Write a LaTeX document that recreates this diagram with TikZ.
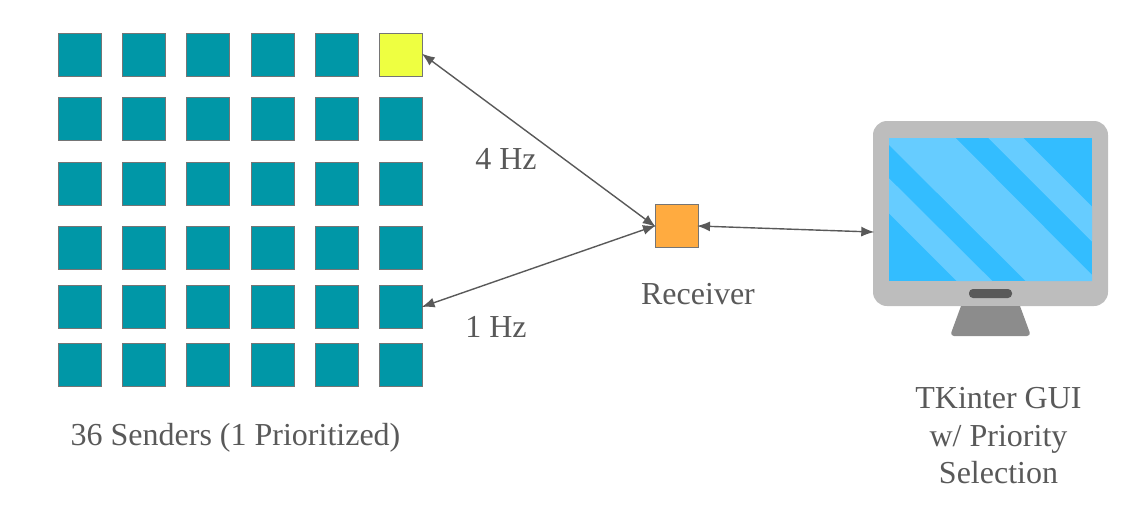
\documentclass[tikz,border=0pt]{standalone}
\usepackage{fontspec}
\setmainfont{Liberation Serif}
\usepackage{xcolor}
\usetikzlibrary{arrows.meta,positioning}
\definecolor{senderteal}{HTML}{0097A7}
\definecolor{lime}{HTML}{EEFF41}
\definecolor{recvorange}{HTML}{FFAB40}
\definecolor{edgegray}{HTML}{757575}
\definecolor{inkgray}{HTML}{595959}
\definecolor{bezel}{HTML}{BDBDBD}
\definecolor{standgray}{HTML}{8C8C8C}
\definecolor{screendark}{HTML}{33BDFF}
\definecolor{screenlight}{HTML}{66CCFF}
\begin{document}
\begin{tikzpicture}[
  x=1pt,y=-1pt,
  box/.style={draw=edgegray,line width=1pt,minimum size=43pt,inner sep=0pt,fill=senderteal},
  arr/.style={{Latex[length=13pt,width=10pt]}-{Latex[length=13pt,width=10pt]},line width=1.4pt,draw=inkgray,shorten >=-1.5pt,shorten <=-1.5pt},
  lab/.style={font=\fontsize{32}{37.5}\selectfont,text=inkgray,align=center,inner sep=0pt}
]
\useasboundingbox (0,0) rectangle (1146,531);
% senders
\foreach \r/\yy in {1/54.5,2/118.5,3/183.5,4/247.5,5/306.5,6/364.5}
  \foreach \c/\xx in {1/79.5,2/144,3/208,4/272.5,5/337,6/401}
    \node[box] (s\r-\c) at (\xx,\yy) {};
\node[box,fill=lime] (s1-6) at (401,54.5) {};
\node[box,fill=recvorange] (recv) at (676.5,226) {};
% monitor
\node[fill=bezel,rounded corners=14pt,minimum width=235pt,minimum height=185pt,inner sep=0pt] (mon) at (990.5,213.5) {};
\node[fill=screendark,minimum width=203pt,minimum height=143pt,inner sep=0pt] (screen) at (990.5,209.5) {};
\fill[screenlight] (889,138)--(955.7,138)--(1092,275)--(1092,281)--(1025.7,281)--(889,145)--cycle;
\fill[screenlight] (988.3,138)--(1023.3,138)--(1092,206.7)--(1092,241.7)--cycle;
\fill[screenlight] (889,178.3)--(889,213.3)--(956.7,281)--(992.3,281)--cycle;
\node[fill=inkgray,rounded corners=4pt,minimum width=43pt,minimum height=9pt,inner sep=0pt] (btn) at (990.5,293.5) {};
\fill[standgray] (961,306)--(1020,306)[rounded corners=4pt]--(1031,336)--(950,336)[sharp corners]--(961,306)--cycle;
% links
\draw[arr] (s1-6.east)--(recv.west);
\draw[arr] (s5-6.east)--(recv.west);
\draw[arr] (recv.east)--([yshift=-18.5pt]mon.west);
% labels
\node[lab] (hz4) at (506,159) {4 Hz};
\node[lab] (hz1) at (496,327) {1 Hz};
\node[lab] (recvlab) at (698,294) {Receiver};
\node[lab] (senders) at (235.5,438) {36 Senders (1 Prioritized)};
\node[lab] (guilab) at (998.5,436) {TKinter GUI\\w/ Priority\\Selection};
\end{tikzpicture}
\end{document}
